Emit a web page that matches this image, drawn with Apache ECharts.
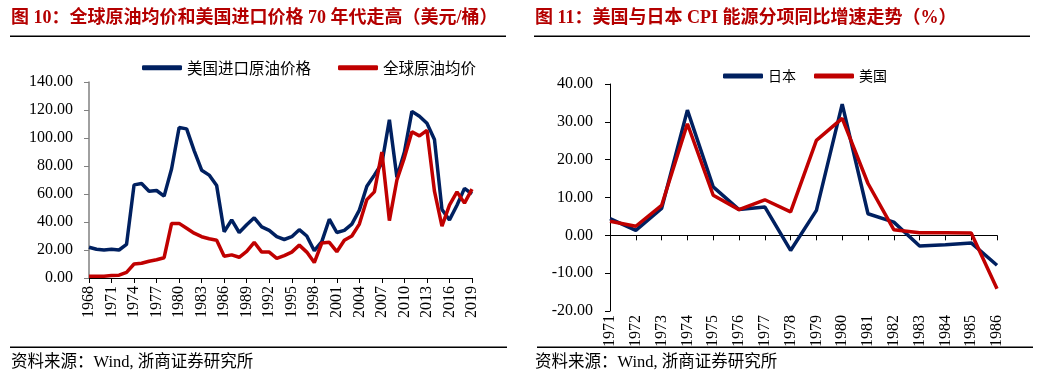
<!DOCTYPE html>
<html>
<head>
<meta charset="utf-8">
<script src="https://cdn.jsdelivr.net/npm/echarts@6/dist/echarts.min.js"></script>
<style>html,body{margin:0;padding:0;background:#fff;}#c{width:1042px;height:384px;}</style>
</head>
<body>
<div id="c"></div>
<script>
// Left chart: 1968-2019
var yearsL = [];
for (var y = 1968; y <= 2019; y++) yearsL.push(String(y));
var usImport = [22,20.5,20,20.5,20,24,66.5,67.5,62,62.5,58.5,78,107.5,106.5,91,77,73.5,66,33,41.5,32.5,38,43,36.5,34,29.5,27.5,29.5,34.5,30,19.5,26,42,32.5,34,38.5,48.5,65.5,73.5,82,113,72,90,119,115.5,110.5,99,49,41.5,52,64,60];
var globalAvg = [1.2,1.2,1.3,1.7,2,4,10,10.5,12,13,14.5,39,39,35.5,32,29.5,28,27,15.5,16.5,14.8,19,25.5,18.5,18.5,14,16,18.5,23.5,18.5,11,25,25.5,18.8,27,30,38.5,56,61.5,90,41,70,86,104.5,101.5,105.5,62,37,52,61.5,53.5,63.5];
var legendL = ['美国进口原油价格', '全球原油均价'];
var ticksL = [0, 140, 20];

// Right chart: 1971-1986
var yearsR = ['1971','1972','1973','1974','1975','1976','1977','1978','1979','1980','1981','1982','1983','1984','1985','1986'];
var japan = [4.4,1.3,7.1,33.1,12.8,6.8,7.5,-4.0,6.6,34.7,5.7,3.5,-2.8,-2.5,-2.0,-7.9];
var usa = [3.7,2.4,7.9,29.5,10.6,6.8,9.4,6.2,25.1,30.9,13.7,1.5,0.7,0.7,0.6,-14.1];
var legendR = ['日本', '美国'];
var ticksR = [-20, 40, 10];

var titleL = '图 10：全球原油均价和美国进口价格 70 年代走高（美元/桶）';
var titleR = '图 11：美国与日本 CPI 能源分项同比增速走势（%）';
var source = '资料来源：Wind, 浙商证券研究所';

var NAVY = '#002060', RED = '#C00000';
var SERIF = '"Liberation Serif","Noto Sans CJK SC",serif';
var CJK = '"Noto Sans CJK SC",sans-serif';

function fmt(v){ return v.toFixed(2); }

var chart = echarts.init(document.getElementById('c'), null, {renderer:'canvas'});
chart.setOption({
  animation: false,
  grid: [
    {left: 89, top: 82, width: 383, height: 196},
    {left: 610, top: 84, width: 387, height: 227}
  ],
  legend: [
    {data: legendL, left: 137, top: 55, itemWidth: 40, itemHeight: 5, itemGap: 27, icon: 'roundRect',
     textStyle: {fontFamily: CJK, fontSize: 15.5, color: '#000'}},
    {data: legendR, left: 718, top: 64, itemWidth: 40, itemHeight: 5, itemGap: 18, icon: 'roundRect',
     textStyle: {fontFamily: CJK, fontSize: 14, color: '#000'}}
  ],
  xAxis: [
    {gridIndex: 0, type: 'category', data: yearsL, boundaryGap: false,
     axisLine: {lineStyle: {color: '#000', width: 1}},
     axisTick: {interval: 2, length: 5, lineStyle: {color: '#000'}},
     axisLabel: {interval: 2, rotate: 90, fontFamily: SERIF, fontSize: 16, color: '#000', margin: 8},
     splitLine: {show: false}},
    {gridIndex: 1, type: 'category', data: yearsR, boundaryGap: false,
     axisLine: {onZero: true, lineStyle: {color: '#000', width: 1}},
     axisTick: {interval: 0, length: 5, lineStyle: {color: '#000'}},
     axisLabel: {interval: 0, rotate: 90, fontFamily: SERIF, fontSize: 16, color: '#000', margin: 4},
     splitLine: {show: false}}
  ],
  yAxis: [
    {gridIndex: 0, type: 'value', min: ticksL[0], max: ticksL[1], interval: ticksL[2],
     axisLine: {show: true, lineStyle: {color: '#808080', width: 1.5}},
     axisTick: {show: true, length: 5, lineStyle: {color: '#808080'}},
     axisLabel: {fontFamily: SERIF, fontSize: 16, color: '#000', formatter: fmt, margin: 16},
     splitLine: {show: false}},
    {gridIndex: 1, type: 'value', min: ticksR[0], max: ticksR[1], interval: ticksR[2],
     axisLine: {show: true, lineStyle: {color: '#000', width: 1}},
     axisTick: {show: true, length: 5, lineStyle: {color: '#000'}},
     axisLabel: {fontFamily: SERIF, fontSize: 16, color: '#000', formatter: fmt, margin: 17},
     splitLine: {show: false}}
  ],
  series: [
    {name: legendL[0], type: 'line', xAxisIndex: 0, yAxisIndex: 0, data: usImport, symbol: 'none',
     color: NAVY, lineStyle: {color: NAVY, width: 3.5}},
    {name: legendL[1], type: 'line', xAxisIndex: 0, yAxisIndex: 0, data: globalAvg, symbol: 'none',
     color: RED, lineStyle: {color: RED, width: 3.5}},
    {name: legendR[0], type: 'line', xAxisIndex: 1, yAxisIndex: 1, data: japan, symbol: 'none',
     color: NAVY, lineStyle: {color: NAVY, width: 3.5}},
    {name: legendR[1], type: 'line', xAxisIndex: 1, yAxisIndex: 1, data: usa, symbol: 'none',
     color: RED, lineStyle: {color: RED, width: 3.5}}
  ],
  graphic: [
    {type: 'text', left: 11, top: 9, style: {text: titleL, font: 'bold 18px ' + SERIF, fill: '#B40000'}},
    {type: 'text', left: 535, top: 9, style: {text: titleR, font: 'bold 18px ' + SERIF, fill: '#B40000'}},
    {type: 'rect', shape: {x: 10, y: 35.5, width: 496, height: 1.5}, style: {fill: '#000'}},
    {type: 'rect', shape: {x: 534, y: 35.5, width: 496, height: 1.5}, style: {fill: '#000'}},
    {type: 'rect', shape: {x: 10, y: 346.5, width: 497, height: 1.5}, style: {fill: '#000'}},
    {type: 'rect', shape: {x: 537, y: 346.5, width: 496, height: 1.5}, style: {fill: '#000'}},
    {type: 'text', left: 11, top: 354, style: {text: source, font: '16.5px ' + SERIF, fill: '#000'}},
    {type: 'text', left: 535, top: 354, style: {text: source, font: '16.5px ' + SERIF, fill: '#000'}}
  ]
});
</script>
</body>
</html>
